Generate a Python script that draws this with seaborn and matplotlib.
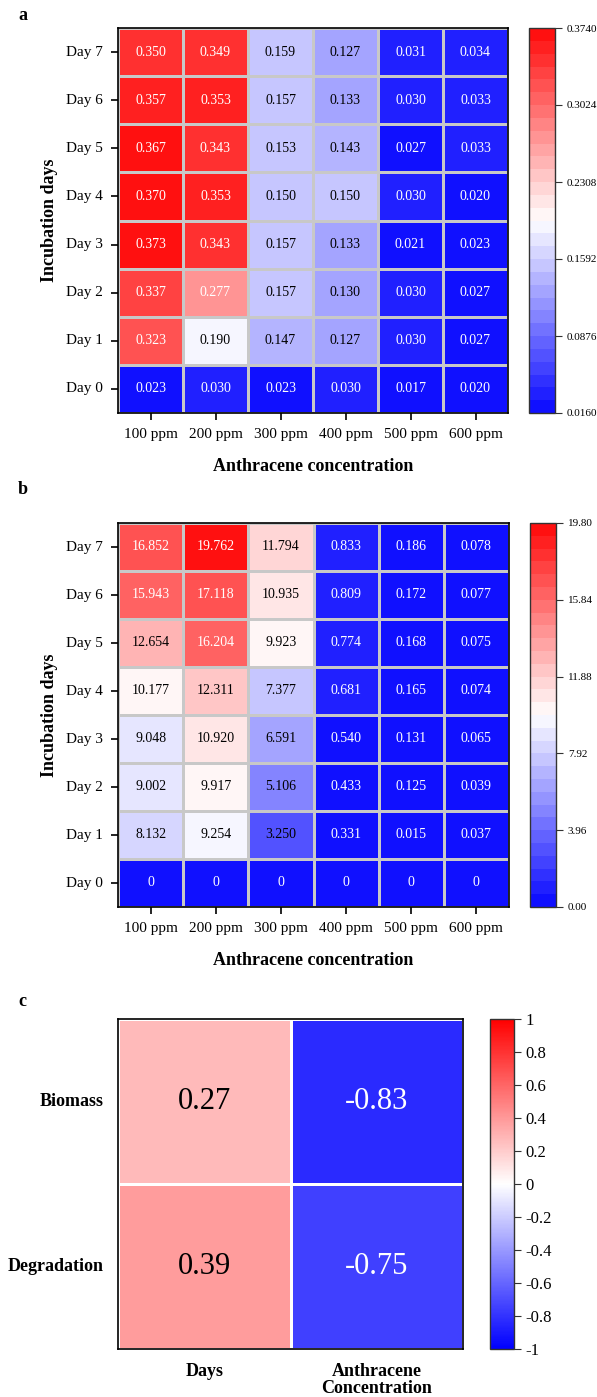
import numpy as np
import pandas as pd
import seaborn as sns
import matplotlib.pyplot as plt
from matplotlib.colors import ListedColormap

days = ["Day 7", "Day 6", "Day 5", "Day 4", "Day 3", "Day 2", "Day 1", "Day 0"]
conc = ["100 ppm", "200 ppm", "300 ppm", "400 ppm", "500 ppm", "600 ppm"]

# panel a (biomass)
biomass = [
    [0.350, 0.349, 0.159, 0.127, 0.031, 0.034],
    [0.357, 0.353, 0.157, 0.133, 0.030, 0.033],
    [0.367, 0.343, 0.153, 0.143, 0.027, 0.033],
    [0.370, 0.353, 0.150, 0.150, 0.030, 0.020],
    [0.373, 0.343, 0.157, 0.133, 0.021, 0.023],
    [0.337, 0.277, 0.157, 0.130, 0.030, 0.027],
    [0.323, 0.190, 0.147, 0.127, 0.030, 0.027],
    [0.023, 0.030, 0.023, 0.030, 0.017, 0.020],
]
biomass_ticks = [0.0160, 0.0876, 0.1592, 0.2308, 0.3024, 0.3740]

# panel b (degradation)
degradation = [
    [16.852, 19.762, 11.794, 0.833, 0.186, 0.078],
    [15.943, 17.118, 10.935, 0.809, 0.172, 0.077],
    [12.654, 16.204, 9.923, 0.774, 0.168, 0.075],
    [10.177, 12.311, 7.377, 0.681, 0.165, 0.074],
    [9.048, 10.920, 6.591, 0.540, 0.131, 0.065],
    [9.002, 9.917, 5.106, 0.433, 0.125, 0.039],
    [8.132, 9.254, 3.250, 0.331, 0.015, 0.037],
    [0, 0, 0, 0, 0, 0],
]
degradation_ticks = [0.00, 3.96, 7.92, 11.88, 15.84, 19.80]

# panel c (correlation)
corr_rows = ["Biomass", "Degradation"]
corr_cols = ["Days", "Anthracene\nConcentration"]
corr = [
    [0.27, -0.83],
    [0.39, -0.75],
]
corr_ticks = [-1, -0.8, -0.6, -0.4, -0.2, 0, 0.2, 0.4, 0.6, 0.8, 1]

sns.set_style("white")
plt.rcParams["font.family"] = ["Liberation Serif", "DejaVu Serif"]
plt.rcParams.update({"text.color": "black", "axes.labelcolor": "black",
                     "xtick.color": "black", "ytick.color": "black"})

W, H = 597, 1397
fig = plt.figure(figsize=(W / 100, H / 100), dpi=100)


def box(x0, y0, x1, y1):
    return [x0 / W, 1 - y1 / H, (x1 - x0) / W, (y1 - y0) / H]


step_cmap = ListedColormap(sns.color_palette("bwr", 30))


def fmt_cell(v):
    return "0" if v == 0 else "%.3f" % v


def day_panel(ax, cax, data, ticks, tickfmt):
    df = pd.DataFrame(data, index=days, columns=conc)
    labels = np.vectorize(fmt_cell)(df.values)
    sns.heatmap(df, ax=ax, cbar_ax=cax, cmap=step_cmap,
                vmin=ticks[0], vmax=ticks[-1],
                annot=labels, fmt="", annot_kws={"size": 10},
                linewidths=0.8, linecolor="#c8c8c8",
                cbar_kws={"ticks": ticks, "format": tickfmt})
    # white text on the strong colours, black on the pale middle
    norm = (df.values.ravel() - ticks[0]) / (ticks[-1] - ticks[0])
    for t, n in zip(ax.texts, norm):
        t.set_color("white" if (n >= 0.7 or n < 0.1) else "black")
    for s in ax.spines.values():
        s.set_visible(True)
        s.set_color("black")
        s.set_linewidth(1.2)
    ax.tick_params(axis="both", length=5, width=1.2, labelsize=11, pad=6,
                   bottom=True, left=True, color="black")
    ax.set_yticklabels(days, rotation=0)
    ax.set_xticklabels(conc, rotation=0)
    ax.set_xlabel("Anthracene concentration", fontsize=13, fontweight="bold",
                  labelpad=12)
    ax.set_ylabel("Incubation days", fontsize=13, fontweight="bold",
                  labelpad=6)
    cax.tick_params(labelsize=8, length=5, width=0.8, right=True,
                    color="#333333")
    cbar = ax.collections[0].colorbar
    cbar.outline.set_edgecolor("#333333")
    cbar.outline.set_linewidth(1)


ax_a = fig.add_axes(box(118, 28, 508, 413))
cax_a = fig.add_axes(box(529, 28, 555, 413))
day_panel(ax_a, cax_a, biomass, biomass_ticks, "%.4f")

ax_b = fig.add_axes(box(118, 523, 509, 907))
cax_b = fig.add_axes(box(530, 523, 556, 907))
day_panel(ax_b, cax_b, degradation, degradation_ticks, "%.2f")

ax_c = fig.add_axes(box(118, 1019, 463, 1349))
cax_c = fig.add_axes(box(490, 1019, 514, 1349))
dfc = pd.DataFrame(corr, index=corr_rows, columns=corr_cols)
sns.heatmap(dfc, ax=ax_c, cbar_ax=cax_c, cmap="bwr", vmin=-1, vmax=1,
            annot=True, fmt=".2f", annot_kws={"size": 22},
            linewidths=1, linecolor="white",
            cbar_kws={"ticks": corr_ticks, "format": "%g"})
for t in ax_c.texts:
    v = float(t.get_text())
    t.set_color("white" if v < -0.5 else "black")
for s in ax_c.spines.values():
    s.set_visible(True)
    s.set_color("black")
    s.set_linewidth(1.2)
ax_c.tick_params(axis="both", length=0, pad=10)
ax_c.set_yticklabels(corr_rows, rotation=0, fontsize=13, fontweight="bold")
ax_c.set_xticklabels(corr_cols, rotation=0, fontsize=13, fontweight="bold",
                     linespacing=1.0)
ax_c.tick_params(axis="y", pad=10)
cax_c.tick_params(labelsize=12, length=5, width=0.8, color="#333333")
cbar_c = ax_c.collections[0].colorbar
cbar_c.outline.set_edgecolor("#333333")
cbar_c.outline.set_linewidth(1)

for lab, y in [("a", 16), ("b", 490), ("c", 1002)]:
    fig.text(18 / W, 1 - y / H, lab, fontsize=13, fontweight="bold",
             ha="left", va="center")

fig.savefig("out.png", dpi=100)
